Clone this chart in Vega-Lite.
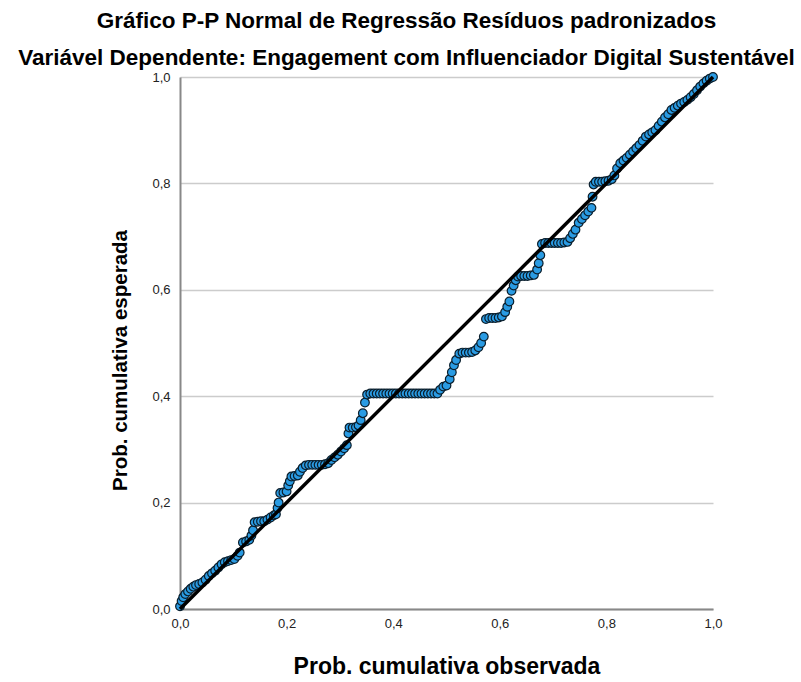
{
  "$schema": "https://vega.github.io/schema/vega-lite/v6.json",
  "width": 533,
  "height": 532,
  "autosize": {"type": "none"},
  "padding": {"left": 180, "top": 77, "right": 88, "bottom": 73},
  "background": "white",
  "title": {
    "text": "Gráfico P-P Normal de Regressão Resíduos padronizados",
    "subtitle": "Variável Dependente: Engagement com Influenciador Digital Sustentável",
    "font": "Liberation Sans",
    "fontSize": 22.5,
    "fontWeight": "bold",
    "color": "#000000",
    "subtitleFont": "Liberation Sans",
    "subtitleFontSize": 22.5,
    "subtitleFontWeight": "bold",
    "subtitleColor": "#000000",
    "subtitlePadding": 14,
    "anchor": "middle",
    "frame": "group",
    "dx": -40,
    "offset": 1
  },
  "config": {
    "view": {"stroke": null},
    "axis": {
      "labelFont": "Liberation Sans",
      "titleFont": "Liberation Sans",
      "labelColor": "#222222",
      "titleColor": "#000000"
    }
  },
  "datasets": {
    "pts": [
      {"x": 0.000, "y": 0.005}, {"x": 0.003, "y": 0.015}, {"x": 0.006, "y": 0.022}, {"x": 0.010, "y": 0.028},
      {"x": 0.015, "y": 0.033}, {"x": 0.020, "y": 0.038}, {"x": 0.025, "y": 0.042}, {"x": 0.030, "y": 0.045},
      {"x": 0.036, "y": 0.047}, {"x": 0.042, "y": 0.050}, {"x": 0.048, "y": 0.055}, {"x": 0.054, "y": 0.062},
      {"x": 0.060, "y": 0.067}, {"x": 0.066, "y": 0.072}, {"x": 0.072, "y": 0.078}, {"x": 0.078, "y": 0.084},
      {"x": 0.084, "y": 0.088}, {"x": 0.090, "y": 0.090}, {"x": 0.096, "y": 0.092}, {"x": 0.102, "y": 0.094},
      {"x": 0.108, "y": 0.100}, {"x": 0.112, "y": 0.106}, {"x": 0.118, "y": 0.125}, {"x": 0.124, "y": 0.127},
      {"x": 0.130, "y": 0.130}, {"x": 0.134, "y": 0.138}, {"x": 0.137, "y": 0.148}, {"x": 0.140, "y": 0.163},
      {"x": 0.146, "y": 0.164}, {"x": 0.152, "y": 0.165}, {"x": 0.158, "y": 0.165}, {"x": 0.164, "y": 0.168},
      {"x": 0.170, "y": 0.172}, {"x": 0.176, "y": 0.176}, {"x": 0.180, "y": 0.178}, {"x": 0.183, "y": 0.190},
      {"x": 0.185, "y": 0.200}, {"x": 0.188, "y": 0.218}, {"x": 0.194, "y": 0.219}, {"x": 0.200, "y": 0.221},
      {"x": 0.203, "y": 0.232}, {"x": 0.206, "y": 0.240}, {"x": 0.209, "y": 0.249}, {"x": 0.215, "y": 0.250},
      {"x": 0.221, "y": 0.251}, {"x": 0.225, "y": 0.258}, {"x": 0.230, "y": 0.265}, {"x": 0.236, "y": 0.270},
      {"x": 0.242, "y": 0.271}, {"x": 0.248, "y": 0.271}, {"x": 0.254, "y": 0.271}, {"x": 0.260, "y": 0.271},
      {"x": 0.266, "y": 0.271}, {"x": 0.272, "y": 0.272}, {"x": 0.278, "y": 0.274}, {"x": 0.284, "y": 0.280},
      {"x": 0.290, "y": 0.285}, {"x": 0.296, "y": 0.290}, {"x": 0.302, "y": 0.296}, {"x": 0.308, "y": 0.302},
      {"x": 0.313, "y": 0.308}, {"x": 0.316, "y": 0.330}, {"x": 0.318, "y": 0.341}, {"x": 0.324, "y": 0.341},
      {"x": 0.330, "y": 0.342}, {"x": 0.335, "y": 0.345}, {"x": 0.339, "y": 0.355}, {"x": 0.343, "y": 0.368},
      {"x": 0.347, "y": 0.388}, {"x": 0.351, "y": 0.403}, {"x": 0.357, "y": 0.405}, {"x": 0.363, "y": 0.405},
      {"x": 0.369, "y": 0.405}, {"x": 0.375, "y": 0.405}, {"x": 0.381, "y": 0.405}, {"x": 0.387, "y": 0.405},
      {"x": 0.393, "y": 0.405}, {"x": 0.399, "y": 0.405}, {"x": 0.405, "y": 0.405}, {"x": 0.411, "y": 0.405},
      {"x": 0.417, "y": 0.405}, {"x": 0.423, "y": 0.405}, {"x": 0.429, "y": 0.405}, {"x": 0.435, "y": 0.405},
      {"x": 0.441, "y": 0.405}, {"x": 0.447, "y": 0.405}, {"x": 0.453, "y": 0.405}, {"x": 0.459, "y": 0.405},
      {"x": 0.465, "y": 0.405}, {"x": 0.471, "y": 0.405}, {"x": 0.477, "y": 0.405}, {"x": 0.483, "y": 0.405},
      {"x": 0.488, "y": 0.412}, {"x": 0.494, "y": 0.418}, {"x": 0.500, "y": 0.420}, {"x": 0.506, "y": 0.432},
      {"x": 0.510, "y": 0.445}, {"x": 0.514, "y": 0.458}, {"x": 0.518, "y": 0.468}, {"x": 0.524, "y": 0.480},
      {"x": 0.530, "y": 0.482}, {"x": 0.536, "y": 0.482}, {"x": 0.542, "y": 0.482}, {"x": 0.548, "y": 0.483},
      {"x": 0.554, "y": 0.486}, {"x": 0.560, "y": 0.492}, {"x": 0.565, "y": 0.500}, {"x": 0.570, "y": 0.512},
      {"x": 0.574, "y": 0.545}, {"x": 0.580, "y": 0.547}, {"x": 0.586, "y": 0.547}, {"x": 0.592, "y": 0.547},
      {"x": 0.598, "y": 0.548}, {"x": 0.604, "y": 0.550}, {"x": 0.610, "y": 0.558}, {"x": 0.614, "y": 0.568},
      {"x": 0.618, "y": 0.578}, {"x": 0.622, "y": 0.598}, {"x": 0.626, "y": 0.608}, {"x": 0.630, "y": 0.618},
      {"x": 0.634, "y": 0.625}, {"x": 0.640, "y": 0.626}, {"x": 0.646, "y": 0.626}, {"x": 0.652, "y": 0.626},
      {"x": 0.658, "y": 0.627}, {"x": 0.664, "y": 0.628}, {"x": 0.670, "y": 0.638}, {"x": 0.673, "y": 0.650},
      {"x": 0.676, "y": 0.665}, {"x": 0.679, "y": 0.686}, {"x": 0.685, "y": 0.688}, {"x": 0.691, "y": 0.688},
      {"x": 0.697, "y": 0.688}, {"x": 0.703, "y": 0.688}, {"x": 0.709, "y": 0.688}, {"x": 0.715, "y": 0.688},
      {"x": 0.721, "y": 0.689}, {"x": 0.727, "y": 0.690}, {"x": 0.732, "y": 0.697}, {"x": 0.737, "y": 0.705},
      {"x": 0.742, "y": 0.713}, {"x": 0.748, "y": 0.726}, {"x": 0.754, "y": 0.733}, {"x": 0.760, "y": 0.740},
      {"x": 0.766, "y": 0.747}, {"x": 0.772, "y": 0.754}, {"x": 0.774, "y": 0.775}, {"x": 0.776, "y": 0.798},
      {"x": 0.780, "y": 0.803}, {"x": 0.786, "y": 0.803}, {"x": 0.792, "y": 0.803}, {"x": 0.798, "y": 0.804},
      {"x": 0.804, "y": 0.805}, {"x": 0.810, "y": 0.808}, {"x": 0.815, "y": 0.815}, {"x": 0.820, "y": 0.828},
      {"x": 0.826, "y": 0.838}, {"x": 0.832, "y": 0.843}, {"x": 0.838, "y": 0.848}, {"x": 0.844, "y": 0.854},
      {"x": 0.850, "y": 0.860}, {"x": 0.856, "y": 0.866}, {"x": 0.862, "y": 0.872}, {"x": 0.868, "y": 0.880},
      {"x": 0.874, "y": 0.888}, {"x": 0.880, "y": 0.892}, {"x": 0.886, "y": 0.896}, {"x": 0.892, "y": 0.900},
      {"x": 0.898, "y": 0.908}, {"x": 0.904, "y": 0.916}, {"x": 0.910, "y": 0.924}, {"x": 0.916, "y": 0.930},
      {"x": 0.922, "y": 0.938}, {"x": 0.928, "y": 0.942}, {"x": 0.934, "y": 0.946}, {"x": 0.940, "y": 0.950},
      {"x": 0.946, "y": 0.953}, {"x": 0.952, "y": 0.957}, {"x": 0.958, "y": 0.962}, {"x": 0.964, "y": 0.968},
      {"x": 0.970, "y": 0.975}, {"x": 0.976, "y": 0.982}, {"x": 0.982, "y": 0.988}, {"x": 0.988, "y": 0.993},
      {"x": 0.994, "y": 0.997}, {"x": 1.000, "y": 1.000}
    ],
    "ref": [{"x": 0, "y": 0}, {"x": 1, "y": 1}]
  },
  "layer": [
    {
      "data": {"name": "pts"},
      "mark": {"type": "point", "shape": "circle", "filled": true, "size": 75, "fill": "#2A9BE3", "stroke": "#0A1E2C", "strokeWidth": 1.2, "opacity": 1, "fillOpacity": 1, "clip": false},
      "encoding": {
        "x": {
          "field": "x", "type": "quantitative",
          "scale": {"domain": [0, 1], "nice": false, "zero": false},
          "axis": {
            "values": [0, 0.2, 0.4, 0.6, 0.8, 1.0],
            "labelExpr": "replace(format(datum.value, '.1f'), '.', ',')",
            "labelFlush": false,
            "grid": false,
            "ticks": false,
            "domainColor": "#888888",
            "domainWidth": 2,
            "labelFontSize": 13,
            "labelPadding": 8,
            "title": "Prob. cumulativa observada",
            "titleFontSize": 23,
            "titleFontWeight": "bold",
            "titlePadding": 25
          }
        },
        "y": {
          "field": "y", "type": "quantitative",
          "scale": {"domain": [0, 1], "nice": false, "zero": false},
          "axis": {
            "values": [0, 0.2, 0.4, 0.6, 0.8, 1.0],
            "labelExpr": "replace(format(datum.value, '.1f'), '.', ',')",
            "labelFlush": false,
            "grid": true,
            "gridColor": "#CCCCCC",
            "gridWidth": 1.5,
            "ticks": false,
            "domainColor": "#888888",
            "domainWidth": 2,
            "labelFontSize": 13,
            "labelPadding": 10,
            "title": "Prob. cumulativa esperada",
            "titleFontSize": 20.5,
            "titleFontWeight": "bold",
            "titleX": -60,
            "titleY": 283,
            "titleAlign": "center",
            "titleBaseline": "middle",
            "titleAngle": -90
          }
        }
      }
    },
    {
      "data": {"name": "ref"},
      "mark": {"type": "line", "color": "#000000", "strokeWidth": 3.5, "clip": false},
      "encoding": {
        "x": {"field": "x", "type": "quantitative"},
        "y": {"field": "y", "type": "quantitative"}
      }
    }
  ]
}
